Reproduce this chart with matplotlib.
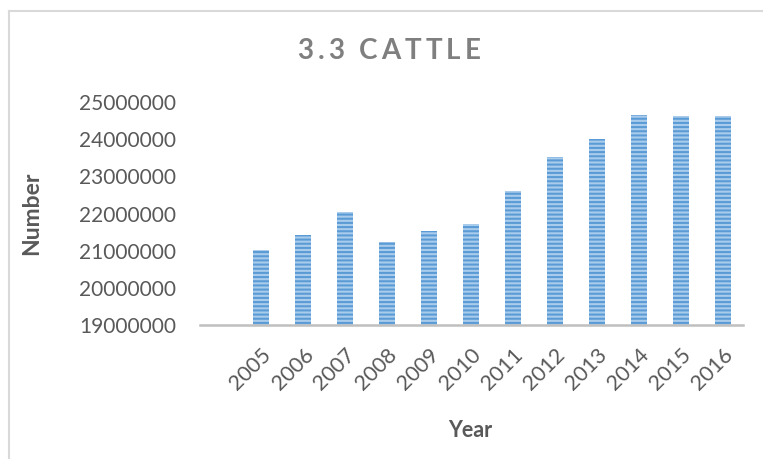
import matplotlib
matplotlib.use("Agg")
import matplotlib.pyplot as plt
from matplotlib.lines import Line2D

# ── Data ──────────────────────────────────────────────────────────────────────
years = ['2005', '2006', '2007', '2008', '2009', '2010',
         '2011', '2012', '2013', '2014', '2015', '2016']
cattle = [21020000, 21410000, 22040000, 21220000, 21530000, 21730000,
          22600000, 23520000, 24000000, 24660000, 24620000, 24620000]
y_ticks = [19000000, 20000000, 21000000, 22000000, 23000000, 24000000, 25000000]

TEXT_GRAY = '#595959'
TITLE_GRAY = '#7F7F7F'
STRIPE_DARK = '#5B9BD5'
STRIPE_LIGHT = '#A9CCEC'

plt.rcParams['font.family'] = ['Lato', 'DejaVu Sans']
plt.rcParams['hatch.linewidth'] = 1.5

fig = plt.figure(figsize=(7.63, 4.59), dpi=100)
ax = fig.add_axes([200 / 763, 1 - 325 / 459, 543 / 763, 223 / 459])

x = list(range(len(years)))
ax.bar(x, [v - y_ticks[0] for v in cattle], bottom=y_ticks[0], width=0.39,
       color=STRIPE_LIGHT, edgecolor=STRIPE_DARK, linewidth=0, hatch='----',
       zorder=2)

ax.set_ylim(y_ticks[0], y_ticks[-1])
ax.set_xlim(-1.46, 11.48)
ax.set_yticks(y_ticks)
ax.set_yticklabels([str(v) for v in y_ticks])
ax.set_xticks(x)
ax.set_xticklabels(years, rotation=45, ha='right', va='top',
                   rotation_mode='anchor')

ax.tick_params(axis='y', length=0, pad=17, labelsize=15, labelcolor=TEXT_GRAY)
ax.tick_params(axis='x', length=0, pad=14, labelsize=15.5, labelcolor=TEXT_GRAY)

for side in ['top', 'right', 'left']:
    ax.spines[side].set_visible(False)
ax.spines['bottom'].set_color('#BFBFBF')
ax.spines['bottom'].set_linewidth(1.8)
ax.spines['bottom'].set_zorder(3)

ax.set_ylabel('Number', fontsize=16.5, fontweight='bold', color=TEXT_GRAY)
ax.yaxis.set_label_coords(-(200 - 42) / 543, 0.5)
ax.set_xlabel('Year', fontsize=15.5, fontweight='bold', color=TEXT_GRAY)
ax.xaxis.set_label_coords((470 - 200) / 543, -(420 - 325) / 223)

# ── Letter-spaced title ───────────────────────────────────────────────────────
title = '3.3 CATTLE'
spacing = 4.0  # extra px between characters
renderer = fig.canvas.get_renderer()
widths = []
for ch in title:
    t = fig.text(0, 0, ch if ch != ' ' else 'a a', fontsize=20,
                 fontweight='bold')
    w = t.get_window_extent(renderer).width
    if ch == ' ':
        t2 = fig.text(0, 0, 'aa', fontsize=20, fontweight='bold')
        w -= t2.get_window_extent(renderer).width
        t2.remove()
    widths.append(w)
    t.remove()
total = sum(widths) + spacing * (len(title) - 1)
cx = 389
px = cx - total / 2
for ch, w in zip(title, widths):
    if ch != ' ':
        fig.text(px / 763, 1 - 51 / 459, ch, fontsize=20, fontweight='bold',
                 color=TITLE_GRAY, ha='left', va='center')
    px += w + spacing

# ── Chart border ──────────────────────────────────────────────────────────────
border = '#D9D9D9'
fig.add_artist(Line2D([8.5 / 763, 8.5 / 763], [0, 1 - 10.5 / 459],
                      color=border, lw=1.5, transform=fig.transFigure))
fig.add_artist(Line2D([8.5 / 763, 1], [1 - 10.5 / 459, 1 - 10.5 / 459],
                      color=border, lw=1.5, transform=fig.transFigure))

fig.savefig('out.png', dpi=100)
